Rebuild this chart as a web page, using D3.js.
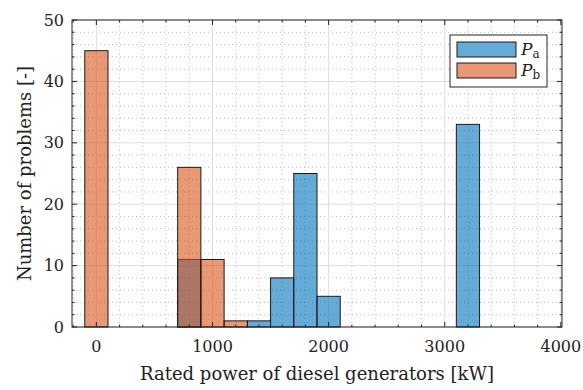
<!DOCTYPE html>
<html>
<head>
<meta charset="utf-8">
<script src="https://cdn.jsdelivr.net/npm/d3@7"></script>
<style>
  html, body { margin: 0; padding: 0; background: #fff; }
</style>
</head>
<body>
<svg id="chart" width="583" height="390" font-family="'DejaVu Serif', serif"></svg>
<script>
// Histogram bins (kW) and counts for each power rating set
const binWidth = 200;
const paStart = 700;
const paCounts = [11, 0, 0, 1, 8, 25, 5, 0, 0, 0, 0, 0, 33];
const pbStart = -100;
const pbCounts = [45, 0, 0, 0, 26, 11, 1];

const xTicks = [0, 1000, 2000, 3000, 4000];
const yTicks = [0, 10, 20, 30, 40, 50];
const xLabel = "Rated power of diesel generators [kW]";
const yLabel = "Number of problems [-]";

const colors = { pa: "#0072BD", pb: "#D95319" };

const svg = d3.select("#chart");
const m = { left: 72, right: 21, top: 20, bottom: 63 };
const W = 583, H = 390;
const pw = W - m.left - m.right, ph = H - m.top - m.bottom;

const x = d3.scaleLinear().domain([-210, 4010]).range([m.left, m.left + pw]);
const y = d3.scaleLinear().domain([0, 50]).range([m.top + ph, m.top]);

const minorX = d3.range(-200, 4001, 200).filter(v => v % 1000 !== 0);
const minorY = d3.range(0, 51, 2).filter(v => v % 10 !== 0);

// Grid: minor dotted, major solid
const g = svg.append("g");
minorX.forEach(v => {
  g.append("line").attr("x1", x(v)).attr("x2", x(v)).attr("y1", y(0)).attr("y2", y(50))
    .attr("stroke", "#aaa").attr("stroke-width", 0.8).attr("stroke-dasharray", "1,3");
});
minorY.forEach(v => {
  g.append("line").attr("x1", x.range()[0]).attr("x2", x.range()[1]).attr("y1", y(v)).attr("y2", y(v))
    .attr("stroke", "#aaa").attr("stroke-width", 0.8).attr("stroke-dasharray", "1,3");
});
xTicks.forEach(v => {
  g.append("line").attr("x1", x(v)).attr("x2", x(v)).attr("y1", y(0)).attr("y2", y(50))
    .attr("stroke", "#dedede").attr("stroke-width", 1);
});
yTicks.forEach(v => {
  g.append("line").attr("x1", x.range()[0]).attr("x2", x.range()[1]).attr("y1", y(v)).attr("y2", y(v))
    .attr("stroke", "#dedede").attr("stroke-width", 1);
});

// Bars
function drawHist(start, counts, color) {
  const bins = counts.map((c, i) => ({ x0: start + i * binWidth, x1: start + (i + 1) * binWidth, c }));
  svg.append("g").selectAll("rect").data(bins).join("rect")
    .attr("x", d => x(d.x0)).attr("width", d => x(d.x1) - x(d.x0))
    .attr("y", d => y(d.c)).attr("height", d => y(0) - y(d.c))
    .attr("fill", color).attr("fill-opacity", 0.6)
    .attr("stroke", "#1a1a1a").attr("stroke-width", 1);
}
drawHist(paStart, paCounts, colors.pa);
drawHist(pbStart, pbCounts, colors.pb);

// Axes box
svg.append("rect").attr("x", x.range()[0]).attr("y", y(50)).attr("width", pw).attr("height", ph)
  .attr("fill", "none").attr("stroke", "#262626").attr("stroke-width", 1);

// Ticks (inward), major and minor
const tk = svg.append("g").attr("stroke", "#262626").attr("stroke-width", 1);
xTicks.forEach(v => {
  tk.append("line").attr("x1", x(v)).attr("x2", x(v)).attr("y1", y(0)).attr("y2", y(0) - 5);
  tk.append("line").attr("x1", x(v)).attr("x2", x(v)).attr("y1", y(50)).attr("y2", y(50) + 5);
});
minorX.forEach(v => {
  tk.append("line").attr("x1", x(v)).attr("x2", x(v)).attr("y1", y(0)).attr("y2", y(0) - 2.5);
  tk.append("line").attr("x1", x(v)).attr("x2", x(v)).attr("y1", y(50)).attr("y2", y(50) + 2.5);
});
yTicks.forEach(v => {
  tk.append("line").attr("x1", x.range()[0]).attr("x2", x.range()[0] + 5).attr("y1", y(v)).attr("y2", y(v));
  tk.append("line").attr("x1", x.range()[1]).attr("x2", x.range()[1] - 5).attr("y1", y(v)).attr("y2", y(v));
});
minorY.forEach(v => {
  tk.append("line").attr("x1", x.range()[0]).attr("x2", x.range()[0] + 2.5).attr("y1", y(v)).attr("y2", y(v));
  tk.append("line").attr("x1", x.range()[1]).attr("x2", x.range()[1] - 2.5).attr("y1", y(v)).attr("y2", y(v));
});

// Tick labels
svg.append("g").selectAll("text").data(xTicks).join("text")
  .attr("x", d => x(d)).attr("y", y(0) + 25).attr("text-anchor", "middle")
  .attr("font-size", 16).attr("fill", "#222").text(d => d);
svg.append("g").selectAll("text").data(yTicks).join("text")
  .attr("x", x.range()[0] - 8).attr("y", d => y(d) + 5.5).attr("text-anchor", "end")
  .attr("font-size", 16).attr("fill", "#222").text(d => d);

// Axis titles
svg.append("text").attr("x", x(1900)).attr("y", 380).attr("text-anchor", "middle")
  .attr("font-size", 18).attr("fill", "#222").text(xLabel);
svg.append("text").attr("transform", `translate(31, ${y(25)}) rotate(-90)`)
  .attr("text-anchor", "middle").attr("font-size", 18).attr("fill", "#222").text(yLabel);

// Legend
const lg = svg.append("g");
lg.append("rect").attr("x", 450).attr("y", 35).attr("width", 97).attr("height", 52)
  .attr("fill", "#fff").attr("stroke", "#262626").attr("stroke-width", 1);
const items = [{ c: colors.pa, s: "a" }, { c: colors.pb, s: "b" }];
items.forEach((d, i) => {
  const yy = 42 + i * 21;
  lg.append("rect").attr("x", 457).attr("y", yy).attr("width", 59).attr("height", 15)
    .attr("fill", d.c).attr("fill-opacity", 0.6).attr("stroke", "#1a1a1a").attr("stroke-width", 1);
  const t = lg.append("text").attr("x", 521).attr("y", yy + 13).attr("font-size", 17).attr("fill", "#222");
  t.append("tspan").attr("font-style", "italic").text("P");
  t.append("tspan").attr("font-size", 12).attr("dy", 3).text(d.s);
});
</script>
</body>
</html>
